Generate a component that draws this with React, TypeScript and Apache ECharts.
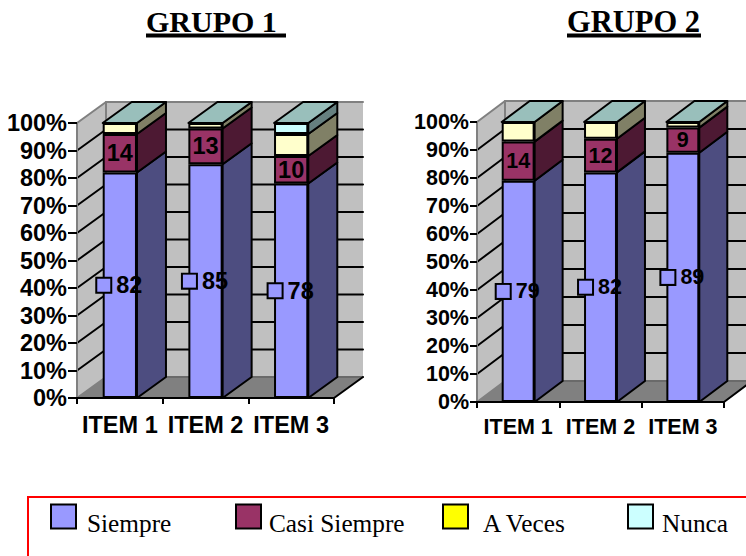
import React, { useEffect, useRef } from "react";
import * as echarts from "echarts";

const categories = ["ITEM 1", "ITEM 2", "ITEM 3"];
const tickValues = [0, 10, 20, 30, 40, 50, 60, 70, 80, 90, 100];
const seriesNames = ["Siempre", "Casi Siempre", "A Veces", "Nunca"];

const grupo1Siempre = [82, 85, 78];
const grupo1CasiSiempre = [14, 13, 10];
const grupo1AVeces = [4, 2, 8];
const grupo1Nunca = [0, 0, 4];

const grupo2Siempre = [79, 82, 89];
const grupo2CasiSiempre = [14, 12, 9];
const grupo2AVeces = [7, 6, 2];
const grupo2Nunca = [0, 0, 0];

const frontColors = ["#9999FF", "#993366", "#FFFFCC", "#CCFFFF"];
const sideColors = ["#4D4D80", "#4D1933", "#808066", "#668080"];
const legendColors = ["#9999FF", "#993366", "#FFFF00", "#CCFFFF"];
const topColor = "#99BFBB";
const wallColor = "#C0C0C0";
const floorColor = "#808080";
const edgeColor = "#808080";
const legendLeft = [50, 235, 442, 627];
const legendTextPad = [6, 3, 10, 4];

interface Panel {
  title: string;
  rows: number[][];
  left: number;
  right: number;
  top: number;
  bottom: number;
  dx: number;
  dy: number;
  font: number;
  labelMargin: number;
  xMargin: number;
}

const panels: Panel[] = [
  { title: "GRUPO 1", rows: [grupo1Siempre, grupo1CasiSiempre, grupo1AVeces, grupo1Nunca], left: 77, right: 334, top: 123, bottom: 398, dx: 29, dy: 21, font: 23.5, labelMargin: 10, xMargin: 15 },
  { title: "GRUPO 2", rows: [grupo2Siempre, grupo2CasiSiempre, grupo2AVeces, grupo2Nunca], left: 477, right: 724, top: 122, bottom: 402, dx: 28, dy: 21, font: 21.5, labelMargin: 8, xMargin: 13.5 },
];

const BAR_RATIO = 0.4;

const seg = (x1: number, y1: number, x2: number, y2: number, stroke: string) => ({
  type: "line",
  shape: { x1, y1, x2, y2 },
  style: { stroke, lineWidth: 2, lineCap: "round" },
});

function buildPanel(p: Panel, g: number) {
  const series: any[] = [];
  const fontFamily = "'Liberation Sans', Arial, sans-serif";

  series.push({
    type: "custom",
    name: "walls" + g,
    xAxisIndex: g,
    yAxisIndex: g,
    z: 1,
    silent: true,
    clip: false,
    data: [[0, 0]],
    renderItem: (params: any, api: any) => {
      const c = params.coordSys;
      const y0 = api.coord([0, 0])[1];
      const y1 = api.coord([0, 100])[1];
      const xL = c.x;
      const xR = c.x + c.width;
      const { dx, dy } = p;
      const gridLines: any[] = [];
      tickValues
        .filter((t) => t > 0 && t < 100)
        .forEach((t) => {
          const y = api.coord([0, t])[1];
          gridLines.push(seg(xL, y, xL + dx, y - dy, "#000"));
          gridLines.push(seg(xL + dx, y - dy, xR + dx, y - dy, "#000"));
        });
      return {
        type: "group",
        children: [
          { type: "polygon", shape: { points: [[xL + dx, y1 - dy], [xR + dx, y1 - dy], [xR + dx, y0 - dy], [xL + dx, y0 - dy]] }, style: { fill: wallColor, stroke: "none" } },
          { type: "polygon", shape: { points: [[xL, y1], [xL + dx, y1 - dy], [xL + dx, y0 - dy], [xL, y0]] }, style: { fill: wallColor, stroke: "none" } },
          { type: "polygon", shape: { points: [[xL, y0], [xR, y0], [xR + dx, y0 - dy], [xL + dx, y0 - dy]] }, style: { fill: floorColor, stroke: "none" } },
          ...gridLines,
          seg(xL, y0, xL, y1, edgeColor),
          seg(xL, y1, xL + dx, y1 - dy, edgeColor),
          seg(xL + dx, y1 - dy, xR + dx, y1 - dy, edgeColor),
          seg(xL, y0, xL + dx, y0 - dy, edgeColor),
          seg(xL + dx, y0 - dy, xL + dx, y1 - dy, edgeColor),
          seg(xL + dx, y0 - dy, xR + dx, y0 - dy, "#6A6A6A"),
          seg(xR, y0, xR + dx, y0 - dy, "#000"),
        ],
      };
    },
  });

  const sideRows: number[][] = [];
  categories.forEach((_, ci) => {
    let acc = 0;
    p.rows.forEach((row, si) => {
      if (row[ci] > 0) sideRows.push([ci, acc, acc + row[ci], si]);
      acc += row[ci];
    });
  });

  series.push({
    type: "custom",
    name: "sides" + g,
    xAxisIndex: g,
    yAxisIndex: g,
    z: 3,
    silent: true,
    clip: false,
    data: sideRows,
    renderItem: (_params: any, api: any) => {
      const ci = api.value(0);
      const a = api.coord([ci, api.value(1)]);
      const b = api.coord([ci, api.value(2)]);
      const half = (api.size([1, 0])[0] * BAR_RATIO) / 2;
      const x = a[0] + half;
      return {
        type: "polygon",
        shape: { points: [[x, a[1]], [x, b[1]], [x + p.dx, b[1] - p.dy], [x + p.dx, a[1] - p.dy]] },
        style: { fill: sideColors[api.value(3)], stroke: "#000", lineWidth: 2, lineJoin: "round" },
      };
    },
  });

  const totals = categories.map((_, ci) => [ci, p.rows.reduce((s, r) => s + r[ci], 0)]);
  series.push({
    type: "custom",
    name: "tops" + g,
    xAxisIndex: g,
    yAxisIndex: g,
    z: 3,
    silent: true,
    clip: false,
    data: totals,
    renderItem: (_params: any, api: any) => {
      const ci = api.value(0);
      const t = api.coord([ci, api.value(1)]);
      const half = (api.size([1, 0])[0] * BAR_RATIO) / 2;
      return {
        type: "polygon",
        shape: { points: [[t[0] - half, t[1]], [t[0] + half, t[1]], [t[0] + half + p.dx, t[1] - p.dy], [t[0] - half + p.dx, t[1] - p.dy]] },
        style: { fill: topColor, stroke: "#000", lineWidth: 2, lineJoin: "round" },
      };
    },
  });

  p.rows.forEach((row, si) => {
    const label: any =
      si === 0
        ? {
            show: true,
            position: "inside",
            formatter: (v: any) => `{k|}{v|${v.value}}`,
            rich: {
              k: { width: 13, height: 13, backgroundColor: frontColors[0], borderColor: "#000", borderWidth: 2 },
              v: { fontFamily, fontWeight: "bold", fontSize: p.font, color: "#000", padding: [0, 0, 0, 6] },
            },
          }
        : si === 1
        ? { show: true, position: "inside", fontFamily, fontWeight: "bold", fontSize: p.font, color: "#000", textBorderWidth: 0 }
        : { show: false };
    series.push({
      type: "bar",
      name: seriesNames[si],
      xAxisIndex: g,
      yAxisIndex: g,
      stack: "s" + g,
      barWidth: BAR_RATIO * 100 + "%",
      z: 5,
      silent: true,
      data: row.map((v) => (v > 0 ? v : "-")),
      itemStyle: { color: frontColors[si], borderColor: "#000", borderWidth: 2 },
      label,
    });
  });

  return series;
}

export default function App() {
  const ref = useRef<HTMLDivElement>(null);
  useEffect(() => {
    if (!ref.current) return;
    const chart = echarts.init(ref.current, undefined, { renderer: "svg" });
    const fontFamily = "'Liberation Sans', Arial, sans-serif";
    chart.setOption({
      animation: false,
      backgroundColor: "#fff",
      title: [
        { text: "GRUPO 1", left: 146, top: 6, textStyle: { fontFamily: "'Liberation Serif', serif", fontWeight: "bold", fontSize: 30, color: "#000" }, padding: 0 },
        { text: "GRUPO 2", left: 567, top: 6, textStyle: { fontFamily: "'Liberation Serif', serif", fontWeight: "bold", fontSize: 30.5, color: "#000" }, padding: 0 },
      ],
      grid: panels.map((p) => ({ left: p.left, top: p.top, width: p.right - p.left, height: p.bottom - p.top, containLabel: false })),
      xAxis: panels.map((p, g) => ({
        type: "category",
        gridIndex: g,
        data: categories,
        z: 6,
        axisLine: { lineStyle: { color: "#000", width: 2 } },
        axisTick: { show: true, length: 6, lineStyle: { color: "#000", width: 2 } },
        axisLabel: { interval: 0, margin: p.xMargin, fontFamily, fontWeight: "bold", fontSize: p.font, color: "#000" },
      })),
      yAxis: panels.map((p, g) => ({
        type: "value",
        gridIndex: g,
        min: 0,
        max: 100,
        interval: 10,
        z: 6,
        splitLine: { show: false },
        axisLine: { show: false },
        axisTick: { show: true, length: p.labelMargin - 1, lineStyle: { color: "#000", width: 2 } },
        axisLabel: { margin: p.labelMargin, formatter: "{value}%", fontFamily, fontWeight: "bold", fontSize: p.font, color: "#000" },
      })),
      legend: seriesNames.map((name, i) => ({
        show: true,
        left: legendLeft[i],
        top: 498,
        padding: 0,
        itemWidth: 25,
        itemHeight: 24,
        selectedMode: false,
        formatter: (n: string) => "\n" + n,
        data: [{ name, icon: "rect", itemStyle: { color: legendColors[i], borderColor: "#000", borderWidth: 2 } }],
        textStyle: { fontFamily: "'Liberation Serif', serif", fontSize: 25.3, lineHeight: 12, color: "#000", padding: [0, 0, 0, legendTextPad[i]] },
      })),
      graphic: [
        { type: "rect", shape: { x: 146, y: 33.5, width: 140, height: 4 }, style: { fill: "#000" } },
        { type: "rect", shape: { x: 567, y: 33.5, width: 134, height: 4 }, style: { fill: "#000" } },
        { type: "rect", shape: { x: 28, y: 497, width: 730, height: 70 }, style: { fill: "none", stroke: "#FF0000", lineWidth: 2 }, z: 0 },
      ],
      series: panels.flatMap((p, g) => buildPanel(p, g)),
    });
    return () => chart.dispose();
  }, []);
  return <div ref={ref} style={{ position: "absolute", left: 0, top: 0, width: 746, height: 556 }} />;
}
